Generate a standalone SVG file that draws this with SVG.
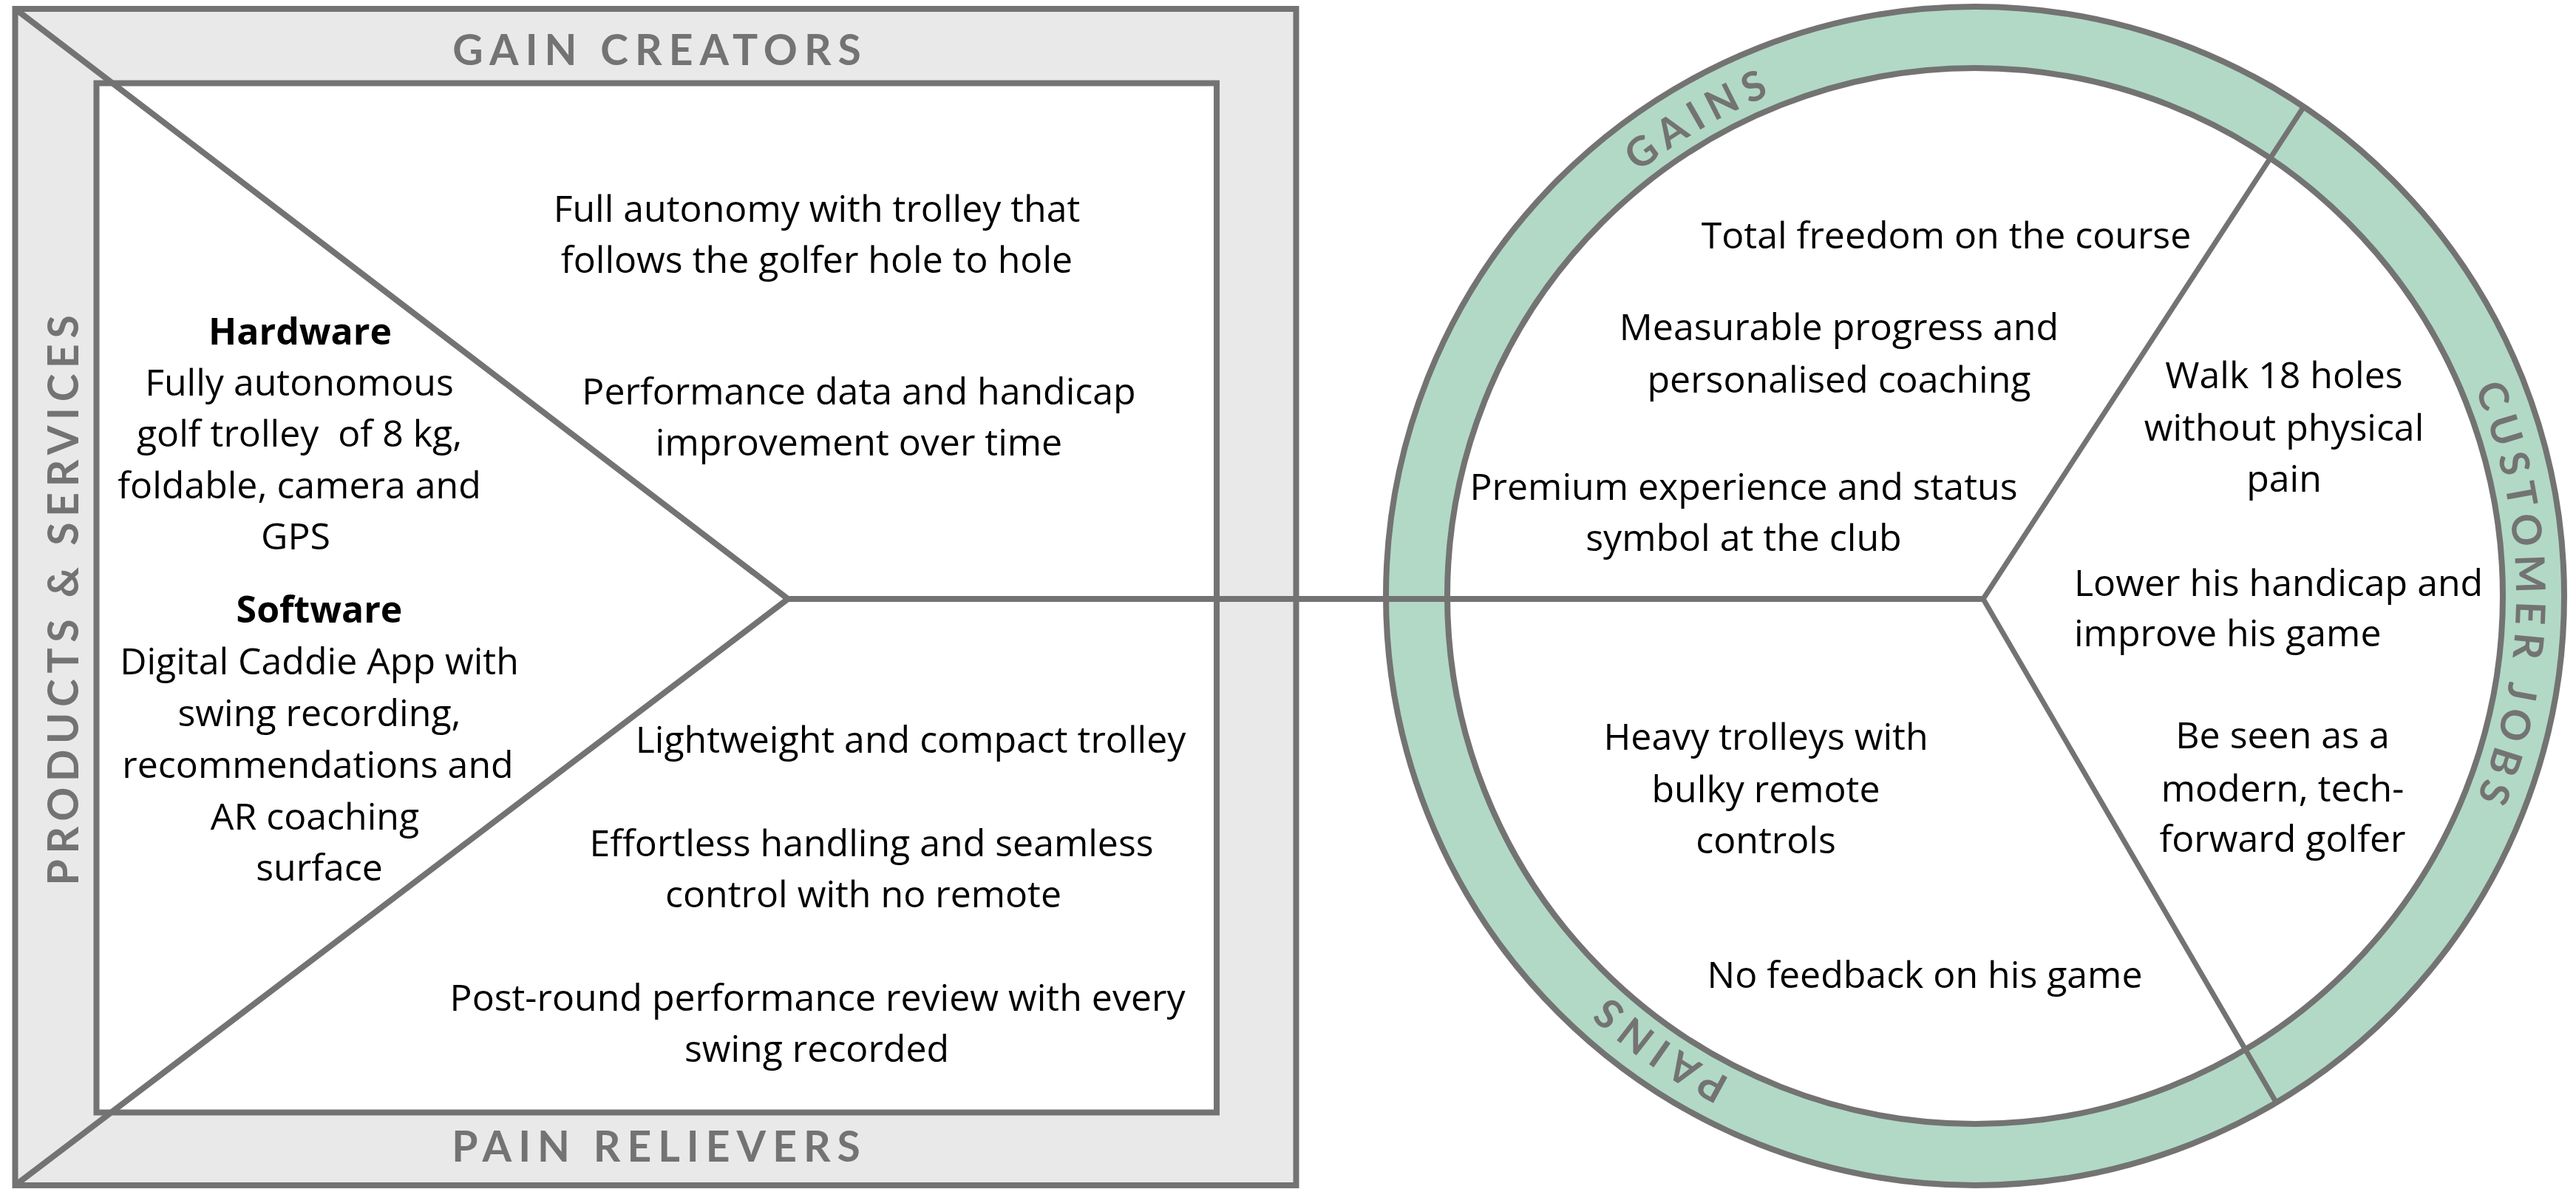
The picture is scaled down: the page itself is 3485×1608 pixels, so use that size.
<svg xmlns="http://www.w3.org/2000/svg" xmlns:xlink="http://www.w3.org/1999/xlink" width="3485" height="1608" viewBox="0 0 3485 1608">
<style>
.ln{stroke:#737373;stroke-width:8;fill:none}
.t{font-family:"Open Sans","Liberation Sans",sans-serif;font-size:50px;fill:#000;text-anchor:middle}
.b{font-weight:700}
.st{text-anchor:start}
.hd{font-family:Lato,"Liberation Sans",sans-serif;font-weight:700;font-size:57px;fill:#737373;letter-spacing:9px;text-anchor:middle}
.rl{font-family:Lato,"Liberation Sans",sans-serif;font-weight:700;font-size:55px;fill:#737373;letter-spacing:10px;text-anchor:middle}
</style>
<defs>
<path id="ringPath" d="M 1940 806 A 732 732 0 1 1 3404 806 A 732 732 0 1 1 1940 806"/>
</defs>
<rect width="3485" height="1608" fill="#fff"/>
<g id="value-map">
<rect x="20.5" y="12" width="1733" height="1591" class="ln" style="fill:#e9e9e9"/>
<rect x="130.5" y="112.5" width="1515.5" height="1392" class="ln" style="fill:#fff"/>
<polyline points="20.5,12 1066,810 20.5,1603" class="ln"/>
<text class="hd" x="893" y="88">GAIN CREATORS</text>
<text class="hd" x="892" y="1571">PAIN RELIEVERS</text>
<text class="hd" transform="translate(106,808) rotate(-90)" x="0" y="0" style="letter-spacing:7.7px">PRODUCTS &amp; SERVICES</text>
</g>
<g id="customer-profile">
<circle cx="2672" cy="806" r="797" class="ln" style="fill:#b2d9c6"/>
<circle cx="2672" cy="806" r="714" class="ln" style="fill:#fff"/>
<text class="rl"><textPath xlink:href="#ringPath" href="#ringPath" startOffset="766">GAINS</textPath></text>
<text class="rl"><textPath xlink:href="#ringPath" href="#ringPath" startOffset="2300">CUSTOMER JOBS</textPath></text>
<text class="rl"><textPath xlink:href="#ringPath" href="#ringPath" startOffset="3897">PAINS</textPath></text>
</g>
<g id="connectors">
<line x1="1066" y1="810" x2="2683" y2="810" class="ln"/>
<line x1="2683" y1="810" x2="3115" y2="147" class="ln" style="stroke-width:7"/>
<line x1="2683" y1="810" x2="3080" y2="1492" class="ln" style="stroke-width:7"/>
</g>
<g id="products-services">
<text class="t b" x="406" y="466">Hardware</text>
<text class="t" x="405" y="535">Fully autonomous</text>
<text class="t" x="405" y="604" style="white-space:pre">golf trolley  of 8 kg,</text>
<text class="t" x="405" y="674">foldable, camera and</text>
<text class="t" x="400" y="743">GPS</text>
<text class="t b" x="432" y="842">Software</text>
<text class="t" x="432" y="912">Digital Caddie App with</text>
<text class="t" x="432" y="982">swing recording,</text>
<text class="t" x="430" y="1052">recommendations and</text>
<text class="t" x="426" y="1122">AR coaching</text>
<text class="t" x="432" y="1191">surface</text>
</g>
<g id="gain-creators">
<text class="t" x="1105" y="300">Full autonomy with trolley that</text>
<text class="t" x="1105" y="369">follows the golfer hole to hole</text>
<text class="t" x="1162" y="547">Performance data and handicap</text>
<text class="t" x="1162" y="616">improvement over time</text>
</g>
<g id="pain-relievers">
<text class="t" x="1232" y="1018">Lightweight and compact trolley</text>
<text class="t" x="1179" y="1158">Effortless handling and seamless</text>
<text class="t" x="1168" y="1227">control with no remote</text>
<text class="t" x="1106" y="1367">Post-round performance review with every</text>
<text class="t" x="1105" y="1436">swing recorded</text>
</g>
<g id="gains">
<text class="t" x="2633" y="336">Total freedom on the course</text>
<text class="t" x="2488" y="460">Measurable progress and</text>
<text class="t" x="2488" y="531">personalised coaching</text>
<text class="t" x="2359" y="676">Premium experience and status</text>
<text class="t" x="2359" y="745">symbol at the club</text>
</g>
<g id="customer-jobs">
<text class="t" x="3090" y="525">Walk 18 holes</text>
<text class="t" x="3090" y="596">without physical</text>
<text class="t" x="3090" y="665">pain</text>
<text class="t st" x="2806" y="806">Lower his handicap and</text>
<text class="t st" x="2806" y="874">improve his game</text>
<text class="t" x="3088" y="1012">Be seen as a</text>
<text class="t" x="3088" y="1084">modern, tech-</text>
<text class="t" x="3088" y="1152">forward golfer</text>
</g>
<g id="pains">
<text class="t" x="2389" y="1014">Heavy trolleys with</text>
<text class="t" x="2389" y="1085">bulky remote</text>
<text class="t" x="2389" y="1154">controls</text>
<text class="t" x="2604" y="1336">No feedback on his game</text>
</g>
</svg>
